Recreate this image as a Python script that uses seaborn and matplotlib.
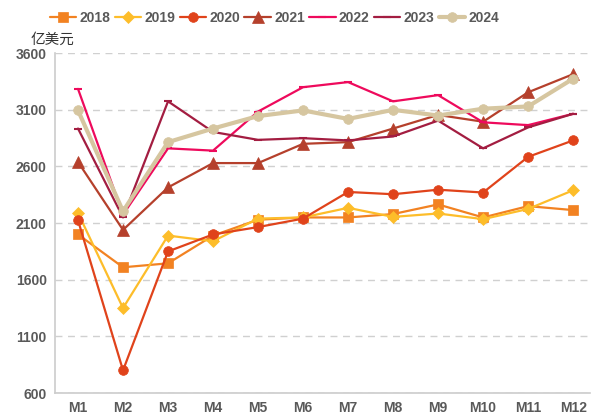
import numpy as np
import pandas as pd
import matplotlib
matplotlib.use('Agg')
import matplotlib.pyplot as plt
import seaborn as sns

months = ['M1', 'M2', 'M3', 'M4', 'M5', 'M6', 'M7', 'M8', 'M9', 'M10', 'M11', 'M12']
years = ['2018', '2019', '2020', '2021', '2022', '2023', '2024']

v2018 = [2000, 1710, 1745, 1990, 2130, 2150, 2150, 2180, 2265, 2150, 2250, 2215]
v2019 = [2190, 1350, 1990, 1940, 2140, 2150, 2235, 2155, 2185, 2135, 2225, 2390]
v2020 = [2125, 800, 1850, 2000, 2065, 2140, 2375, 2355, 2395, 2370, 2685, 2830]
v2021 = [2640, 2040, 2415, 2630, 2630, 2800, 2815, 2935, 3055, 2995, 3255, 3415]
v2022 = [3285, 2175, 2760, 2740, 3085, 3300, 3345, 3175, 3230, 2990, 2965, 3065]
v2023 = [2935, 2150, 3175, 2905, 2835, 2850, 2830, 2865, 3005, 2760, 2945, 3065]
v2024 = [3095, 2205, 2815, 2935, 3045, 3095, 3020, 3100, 3050, 3110, 3130, 3375]

series = [v2018, v2019, v2020, v2021, v2022, v2023, v2024]
colors = ['#f28222', '#fdbd2a', '#e0431b', '#b5402c', '#ee0a5c', '#a31d41', '#d6c6a0']
markers = ['s', 'D', 'o', '^', '_', '_', 'o']
msizes = [7, 6, 7, 8, 6, 6, 7]
lwidths = [1.6, 1.6, 1.6, 1.6, 1.6, 1.6, 3.0]

rows = []
for y, vals in zip(years, series):
    for i, v in enumerate(vals):
        rows.append({'year': y, 'pos': i, 'value': v})
df = pd.DataFrame(rows)

sns.set_style('white')
plt.rcParams['font.family'] = ['Liberation Sans', 'Noto Sans CJK SC', 'DejaVu Sans']

fig = plt.figure(figsize=(5.92, 4.19), dpi=100)
ax = fig.add_axes([0.093, 0.062, 0.904, 0.811])

for k, y in enumerate(years):
    sub = df[df['year'] == y]
    sns.lineplot(data=sub, x='pos', y='value', ax=ax, color=colors[k], label=y,
                 marker=markers[k], markersize=msizes[k], linewidth=lwidths[k],
                 markeredgecolor=colors[k], markeredgewidth=1.5 if markers[k] == '_' else 0.5)

ax.set_xlim(-0.51, 11.38)
ax.set_ylim(600, 3600)
ax.set_yticks([600, 1100, 1600, 2100, 2600, 3100, 3600])
ax.set_xticks(range(12))
ax.set_xticklabels(months)
ax.set_xlabel('')
ax.set_ylabel('')
ax.tick_params(axis='both', labelsize=10, colors='#595959', length=0, pad=6)
for lab in ax.get_xticklabels() + ax.get_yticklabels():
    lab.set_fontweight('bold')
ax.grid(axis='y', linestyle=(0, (5, 4)), color='#d0d0d0', linewidth=1)
for s in ['top', 'right']:
    ax.spines[s].set_visible(False)
for s in ['left', 'bottom']:
    ax.spines[s].set_color('#cccccc')
    ax.spines[s].set_linewidth(1.2)

# unit label, sits just above the top tick like the original
ax.text(-0.045, 1.02, '亿美元', transform=ax.transAxes, fontsize=10.5,
        family=['Noto Sans CJK SC'], color='#333333', va='bottom', ha='left')

leg = ax.legend(loc='center', bbox_to_anchor=(0.41, 1.103), ncol=7, frameon=False,
                handlelength=1.9, columnspacing=0.3, handletextpad=0.25, fontsize=10)
for t in leg.get_texts():
    t.set_color('#595959')
    t.set_fontweight('bold')

fig.savefig('out.png', dpi=100)
